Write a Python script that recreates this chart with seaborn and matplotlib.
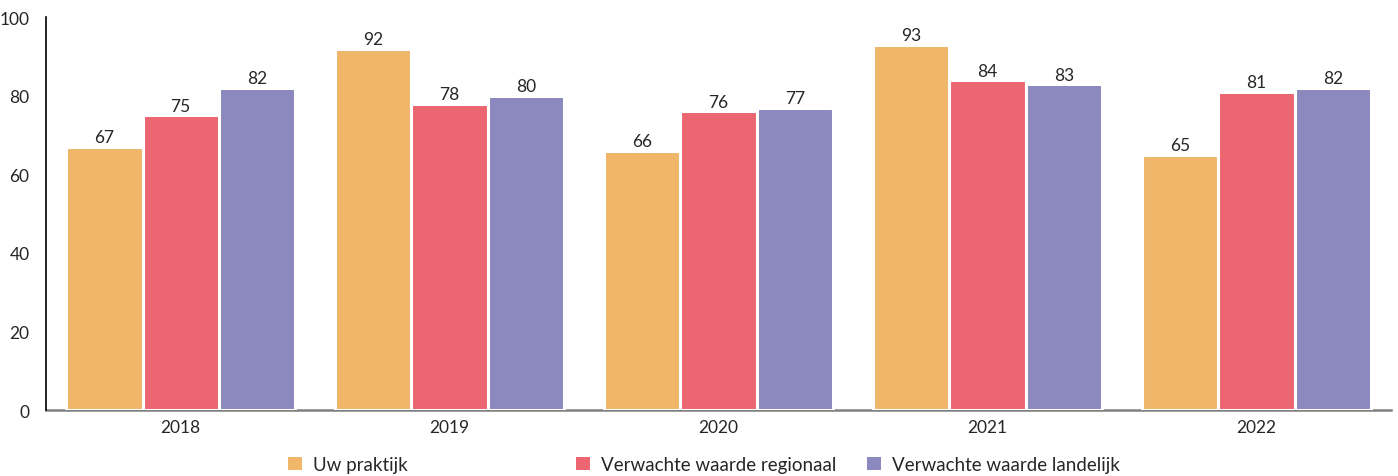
import matplotlib
matplotlib.use("Agg")
import matplotlib.pyplot as plt
from matplotlib.patches import Patch
import seaborn as sns
import pandas as pd

years = ["2018", "2019", "2020", "2021", "2022"]
series_names = ["Uw praktijk", "Verwachte waarde regionaal", "Verwachte waarde landelijk"]
uw_praktijk = [67, 92, 66, 93, 65]
regionaal = [75, 78, 76, 84, 81]
landelijk = [82, 80, 77, 83, 82]
y_ticks = [0, 20, 40, 60, 80, 100]

colors = ["#F0B76B", "#EB6670", "#8B89BD"]

df = pd.DataFrame({
    "jaar": years * 3,
    "serie": [series_names[0]] * 5 + [series_names[1]] * 5 + [series_names[2]] * 5,
    "waarde": uw_praktijk + regionaal + landelijk,
})

sns.set_theme(style="white")
plt.rcParams["font.family"] = ["Lato", "DejaVu Sans"]

fig = plt.figure(figsize=(13.98, 4.77), dpi=100)
ax = fig.add_axes([0.033, 0.138, 0.962, 0.824])

sns.barplot(data=df, x="jaar", y="waarde", hue="serie", hue_order=series_names,
            palette=colors, width=0.85, edgecolor="white", linewidth=2.2,
            saturation=1, legend=False, ax=ax)

for container in ax.containers:
    ax.bar_label(container, fmt="%d", padding=1, fontsize=12.5, color="#262626")

ax.set_ylim(0, 100)
ax.set_yticks(y_ticks)
ax.set_yticklabels([str(t) for t in y_ticks], fontsize=12.5, color="#262626")
ax.set_xlim(-0.5, 4.5)
ax.tick_params(axis="x", labelsize=12.5, colors="#262626", length=0, pad=6)
ax.tick_params(axis="y", length=0, pad=12)
ax.set_xlabel("")
ax.set_ylabel("")

for side in ["top", "right"]:
    ax.spines[side].set_visible(False)
ax.spines["left"].set_color("#000000")
ax.spines["left"].set_linewidth(1.2)
ax.spines["bottom"].set_color("#808080")
ax.spines["bottom"].set_linewidth(1.8)
ax.spines["bottom"].set_zorder(0)

# one legend entry per column, placed at fixed horizontal positions
legend_x = [0.206, 0.412, 0.620]
for name, col, x in zip(series_names, colors, legend_x):
    handle = Patch(facecolor=col, edgecolor="none")
    fig.legend([handle], [name], loc="center left", bbox_to_anchor=(x, 0.024),
               frameon=False, fontsize=13.5, handlelength=0.75, handleheight=0.75,
               handletextpad=0.6, borderaxespad=0, borderpad=0,
               labelcolor="#262626")

fig.savefig("out.png", dpi=100, facecolor="white")
